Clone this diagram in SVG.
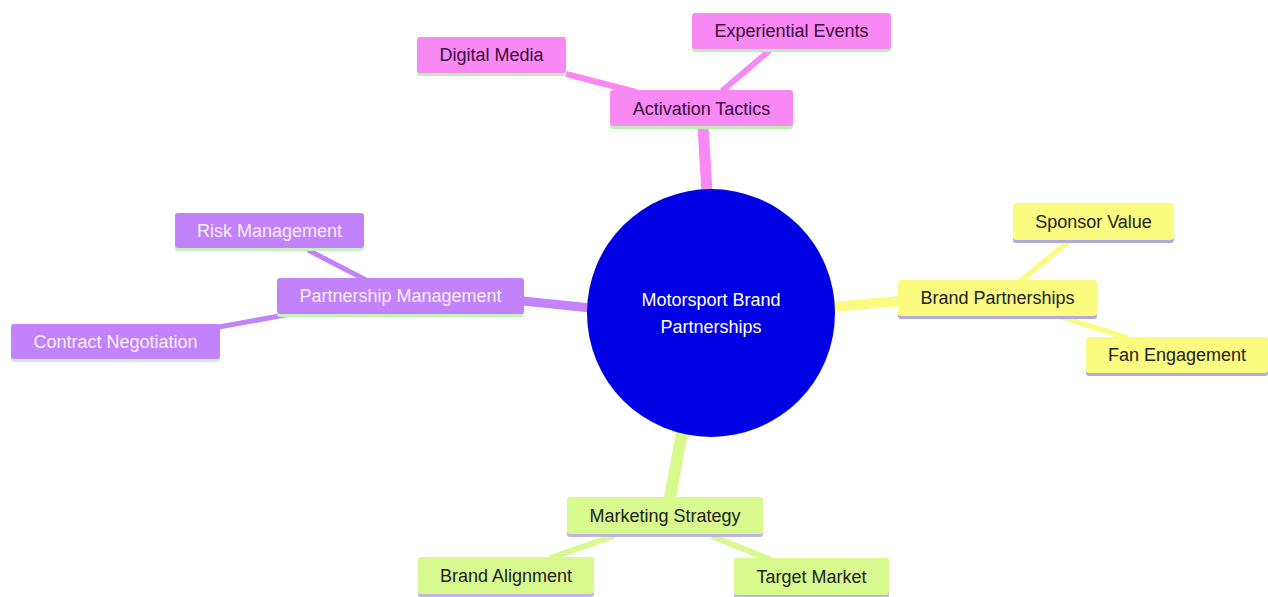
<svg xmlns="http://www.w3.org/2000/svg" width="1268" height="597" viewBox="0 0 1268 597">
<style>
text{font-family:"Liberation Sans",Arial,sans-serif;font-size:18px;text-anchor:middle;dominant-baseline:central}
.pk rect.b{fill:#f888f4}.pk rect.u{fill:#b8f0b0}.pk text{fill:#3a0d3a}
.ye rect.b{fill:#fbfb80}.ye rect.u{fill:#b0a8e0}.ye text{fill:#222}
.gr rect.b{fill:#d8f98e}.gr rect.u{fill:#c0b4e8}.gr text{fill:#222}
.pu rect.b{fill:#c182fa}.pu rect.u{fill:#c8f0c0}.pu text{fill:#f6eeff}
.e{fill:none;stroke-linecap:butt}
</style>
<rect width="1268" height="597" fill="#fff"/>
<g id="connectors">
<line class="e" x1="703" y1="127" x2="707" y2="192" stroke="#f888f4" stroke-width="11"/>
<line class="e" x1="566" y1="74" x2="636" y2="92" stroke="#f888f4" stroke-width="6"/>
<line class="e" x1="770" y1="50" x2="722" y2="91" stroke="#f888f4" stroke-width="6"/>
<line class="e" x1="832" y1="307" x2="899" y2="301" stroke="#fbfb80" stroke-width="10"/>
<line class="e" x1="1068" y1="242" x2="1020" y2="281" stroke="#fbfb80" stroke-width="5"/>
<line class="e" x1="1058" y1="316" x2="1128" y2="338" stroke="#fbfb80" stroke-width="5"/>
<line class="e" x1="682" y1="432" x2="670" y2="498" stroke="#d8f98e" stroke-width="12"/>
<line class="e" x1="550" y1="558" x2="614" y2="536" stroke="#d8f98e" stroke-width="6"/>
<line class="e" x1="712" y1="536" x2="771" y2="560" stroke="#d8f98e" stroke-width="6"/>
<line class="e" x1="523" y1="301" x2="591" y2="308" stroke="#c182fa" stroke-width="9"/>
<line class="e" x1="308" y1="250" x2="366" y2="280" stroke="#c182fa" stroke-width="5"/>
<line class="e" x1="219" y1="327" x2="285" y2="315" stroke="#c182fa" stroke-width="5"/>
</g>
<g id="root">
<circle cx="711" cy="313" r="124" fill="#0000e4"/>
<text x="711" y="300" fill="#fff" font-size="17">Motorsport Brand</text>
<text x="711" y="327" fill="#fff" font-size="17">Partnerships</text>
</g>
<g id="activation" class="pk"><rect class="u" x="610" y="92" width="183" height="37" rx="3"/><rect class="b" x="610" y="90" width="183" height="36" rx="3"/><text x="701.5" y="109">Activation Tactics</text></g>
<g id="digital" class="pk"><rect class="u" x="417" y="39" width="149" height="37" rx="3"/><rect class="b" x="417" y="37" width="149" height="36" rx="3"/><text x="491.5" y="55">Digital Media</text></g>
<g id="experiential" class="pk"><rect class="u" x="692" y="15" width="199" height="37" rx="3"/><rect class="b" x="692" y="13" width="199" height="36" rx="3"/><text x="791.5" y="31">Experiential Events</text></g>
<g id="brandp" class="ye"><rect class="u" x="898" y="282" width="199" height="37" rx="3"/><rect class="b" x="898" y="280" width="199" height="36" rx="3"/><text x="997.5" y="298">Brand Partnerships</text></g>
<g id="sponsor" class="ye"><rect class="u" x="1013" y="205" width="161" height="38" rx="3"/><rect class="b" x="1013" y="203" width="161" height="37" rx="3"/><text x="1093.5" y="222">Sponsor Value</text></g>
<g id="fan" class="ye"><rect class="u" x="1086" y="339" width="182" height="37" rx="3"/><rect class="b" x="1086" y="337" width="182" height="36" rx="3"/><text x="1177" y="355">Fan Engagement</text></g>
<g id="marketing" class="gr"><rect class="u" x="567" y="499" width="196" height="38" rx="3"/><rect class="b" x="567" y="497" width="196" height="37" rx="3"/><text x="665" y="516">Marketing Strategy</text></g>
<g id="alignment" class="gr"><rect class="u" x="418" y="559" width="176" height="38" rx="3"/><rect class="b" x="418" y="557" width="176" height="37" rx="3"/><text x="506" y="576">Brand Alignment</text></g>
<g id="target" class="gr"><rect class="u" x="734" y="560" width="155" height="38" rx="3"/><rect class="b" x="734" y="558" width="155" height="37" rx="3"/><text x="811.5" y="577">Target Market</text></g>
<g id="partnership" class="pu"><rect class="u" x="277" y="280" width="247" height="37" rx="3"/><rect class="b" x="277" y="278" width="247" height="36" rx="3"/><text x="400.5" y="296">Partnership Management</text></g>
<g id="risk" class="pu"><rect class="u" x="175" y="215" width="189" height="36" rx="3"/><rect class="b" x="175" y="213" width="189" height="35" rx="3"/><text x="269.5" y="231">Risk Management</text></g>
<g id="contract" class="pu"><rect class="u" x="11" y="326" width="209" height="36" rx="3"/><rect class="b" x="11" y="324" width="209" height="35" rx="3"/><text x="115.5" y="342">Contract Negotiation</text></g>
</svg>
